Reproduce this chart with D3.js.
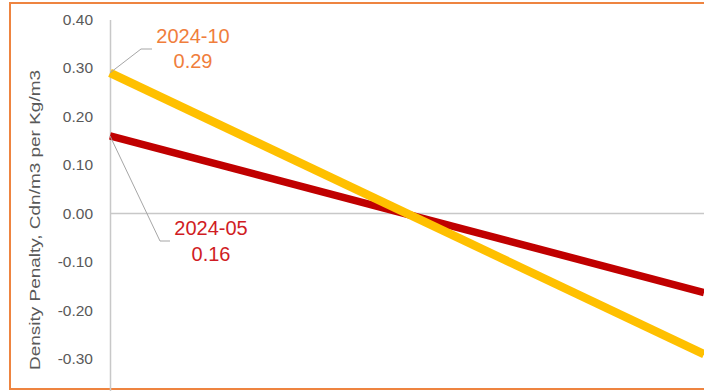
<!DOCTYPE html>
<html>
<head>
<meta charset="utf-8">
<script src="https://cdn.jsdelivr.net/npm/d3@7"></script>
<style>
  html, body { margin: 0; padding: 0; background: #fff; }
  svg { display: block; }
</style>
</head>
<body>
<svg id="chart" width="704" height="391"></svg>
<script>
// Density penalty lines for two price periods
const xSteps = [0, 1];
const seriesNames = ["2024-05", "2024-10"];
const penalty202405 = [0.16, -0.163];
const penalty202410 = [0.29, -0.29];
const yTicks = [-0.3, -0.2, -0.1, 0.0, 0.1, 0.2, 0.3, 0.4];
const yTitle = "Density Penalty,  Cdn/m3 per Kg/m3";

const series = [
  { name: seriesNames[0], values: penalty202405, line: "#C00000", label: "#D01C24", width: 7.5,
    leader: [[160, 241], [170, 241]], labelX: 211, labelY: 235 },
  { name: seriesNames[1], values: penalty202410, line: "#FFC000", label: "#F07E3C", width: 8.5,
    leader: [[141, 49], [152, 49]], labelX: 193, labelY: 42.7 }
];

const svg = d3.select("#chart");
const fmt = d3.formatLocale({ decimal: ".", thousands: ",", grouping: [3], currency: ["$", ""], minus: "-" }).format(".2f");

const x = d3.scaleLinear().domain([0, 1]).range([110, 704]);
const y = d3.scaleLinear().domain([-0.4, 0.4]).range([407.5, 19.5]);

// frame
svg.append("rect")
  .attr("x", 10).attr("y", 3).attr("width", 720).attr("height", 386)
  .attr("fill", "none").attr("stroke", "#EE8440").attr("stroke-width", 2);

// y axis
const yAxis = svg.append("g")
  .attr("transform", `translate(${x(0)},0)`)
  .call(d3.axisLeft(y).tickValues(yTicks).tickSize(0).tickPadding(17).tickFormat(fmt));
yAxis.select(".domain").attr("stroke", "#C8C8C8").attr("stroke-width", 1.5);
yAxis.selectAll("text")
  .attr("fill", "#595959")
  .style("font-family", "'Liberation Sans', Arial, sans-serif")
  .style("font-size", "15.5px");

// zero line
svg.append("line")
  .attr("x1", x(0)).attr("x2", 704)
  .attr("y1", y(0)).attr("y2", y(0))
  .attr("stroke", "#C8C8C8").attr("stroke-width", 1.5);

// axis title
svg.append("text")
  .attr("transform", `translate(40,${220}) rotate(-90)`)
  .attr("text-anchor", "middle")
  .attr("fill", "#595959")
  .attr("textLength", 300)
  .attr("lengthAdjust", "spacingAndGlyphs")
  .style("font-family", "'Liberation Sans', Arial, sans-serif")
  .style("font-size", "14px")
  .text(yTitle);

// lines
const lineGen = d3.line().x((d, i) => x(xSteps[i])).y(d => y(d));
series.forEach(s => {
  svg.append("path")
    .datum(s.values)
    .attr("d", lineGen)
    .attr("fill", "none")
    .attr("stroke", s.line)
    .attr("stroke-width", s.width)
    .attr("stroke-linecap", "butt");
});

// leader lines and labels
series.forEach(s => {
  const start = [x(xSteps[0]), y(s.values[0])];
  svg.append("polyline")
    .attr("points", [start, ...s.leader].map(p => p.join(",")).join(" "))
    .attr("fill", "none")
    .attr("stroke", "#A6A6A6")
    .attr("stroke-width", 1);
  const t = svg.append("text")
    .attr("text-anchor", "middle")
    .attr("fill", s.label)
    .style("font-family", "'Liberation Sans', Arial, sans-serif")
    .style("font-size", "20px");
  t.append("tspan").attr("x", s.labelX).attr("y", s.labelY).text(s.name);
  t.append("tspan").attr("x", s.labelX).attr("y", s.labelY + 25.5).text(fmt(s.values[0]));
});
</script>
</body>
</html>
